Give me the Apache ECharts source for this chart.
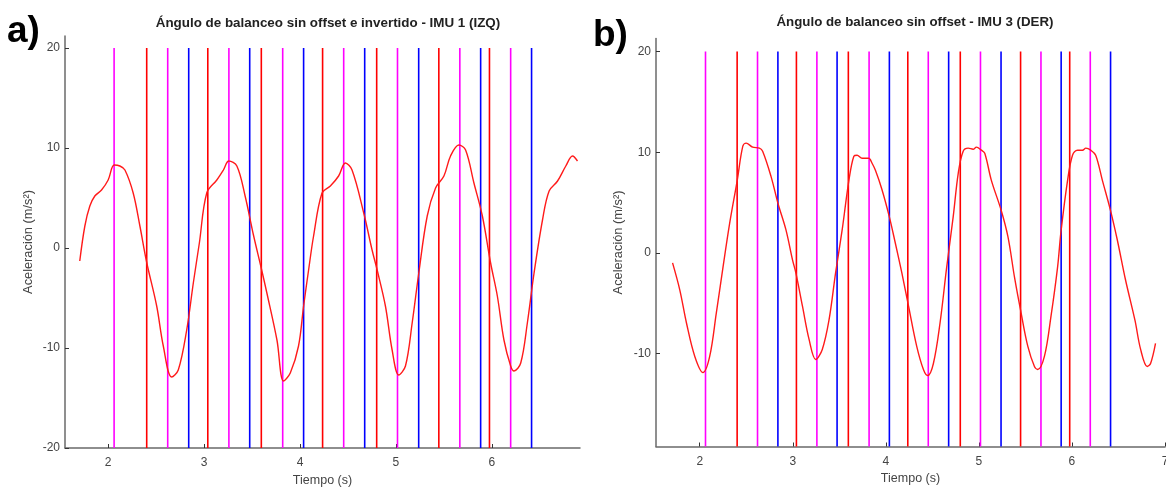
<!DOCTYPE html>
<html><head><meta charset="utf-8">
<script src="https://cdn.jsdelivr.net/npm/echarts@6/dist/echarts.min.js"></script>
<style>html,body{margin:0;padding:0;background:#fff}#c{width:1166px;height:487px}</style>
</head><body><div id="c"></div>
<script>
// ---------- data ----------
const titleA = 'Ángulo de balanceo sin offset e invertido - IMU 1 (IZQ)';
const titleB = 'Ángulo de balanceo sin offset - IMU 3 (DER)';
const panelLabels = ['a)', 'b)'];
const xName = 'Tiempo (s)';
const yName = 'Aceleración (m/s²)';
const xTicksA = [2, 3, 4, 5, 6];
const xTicksB = [2, 3, 4, 5, 6, 7];
const yTicksA = [-20, -10, 0, 10, 20];
const yTicksB = [-10, 0, 10, 20];

// event markers (s)
const eventsMagenta = [2.062, 2.621, 3.259, 3.820, 4.456, 5.017, 5.667, 6.197];
const eventsRed     = [2.402, 3.039, 3.597, 4.236, 4.800, 5.448, 5.976];
const eventsBlue    = [2.840, 3.476, 4.038, 4.675, 5.238, 5.884, 6.415];

// IMU 1 (IZQ)
const timeA = [1.704,1.757,1.809,1.861,1.931,2.000,2.063,2.122,2.175,2.261,2.331,2.401,2.506,2.575,2.662,2.731,2.819,2.888,2.951,3.028,3.133,3.202,3.258,3.342,3.428,3.515,3.596,3.655,3.760,3.829,3.899,3.985,4.038,4.090,4.142,4.230,4.317,4.403,4.473,4.543,4.665,4.752,4.805,4.891,4.961,5.030,5.100,5.170,5.239,5.327,5.414,5.501,5.570,5.657,5.727,5.814,5.902,5.988,6.058,6.127,6.197,6.232,6.302,6.371,6.441,6.529,6.598,6.686,6.772,6.842,6.894];
const valueA = [-1.3,2.2,4.2,5.2,5.8,6.8,8.3,8.2,7.8,5.5,2.2,-1.4,-5.8,-9.8,-12.9,-12.2,-8.2,-3.5,0.5,5.5,6.8,7.8,8.7,8.2,5.2,1.3,-2.0,-4.5,-9.2,-13.3,-12.5,-9.8,-5.8,-2.2,1.2,5.5,6.2,7.2,8.5,7.8,3.5,-0.2,-2.2,-5.8,-10.2,-12.7,-11.8,-7.5,-2.5,3.2,6.0,7.2,9.2,10.3,9.8,6.5,3.2,-1.5,-4.8,-9.2,-11.8,-12.3,-11.5,-7.5,-2.5,2.8,5.7,6.7,8.2,9.2,8.7];

// IMU 3 (DER)
const timeB = [1.708,1.786,1.858,1.947,2.035,2.107,2.178,2.249,2.321,2.403,2.463,2.499,2.569,2.641,2.676,2.766,2.841,2.926,2.997,3.033,3.104,3.175,3.247,3.317,3.389,3.460,3.531,3.603,3.656,3.691,3.745,3.816,3.852,3.888,3.958,4.037,4.101,4.172,4.244,4.332,4.404,4.450,4.511,4.582,4.653,4.724,4.778,4.831,4.885,4.938,4.973,5.027,5.063,5.134,5.237,5.312,5.384,5.454,5.526,5.597,5.632,5.704,5.775,5.846,5.881,5.953,6.006,6.060,6.113,6.149,6.202,6.255,6.327,6.412,6.487,6.576,6.677,6.738,6.809,6.845,6.898];
const valueB = [-1.0,-3.7,-7.0,-10.3,-11.9,-10.3,-6.0,-1.5,2.9,7.2,10.6,10.9,10.5,10.4,10.1,7.6,4.9,2.3,-0.7,-2.0,-5.3,-8.6,-10.6,-9.6,-6.7,-2.0,2.3,7.2,9.6,9.7,9.4,9.4,8.9,8.2,6.3,3.6,1.0,-2.0,-5.3,-9.3,-11.6,-12.2,-11.0,-7.0,-1.5,3.6,7.9,10.1,10.4,10.3,10.5,10.2,9.9,7.2,4.3,1.6,-2.5,-6.0,-9.3,-11.3,-11.6,-10.3,-6.3,-1.4,2.0,7.2,9.7,10.2,10.2,10.4,10.2,9.7,7.2,4.3,1.3,-2.7,-6.7,-9.6,-11.3,-11.0,-9.0];

// ---------- chart ----------
const FONT = '"Liberation Sans", Arial, sans-serif';
const AXIS_COLOR = '#6a6a6a';
const LABEL_COLOR = '#444';
const yRange = [{min: -20, max: 21.2}, {min: -19.25, max: 21.3}];
const xRange = [{min: 1.55, max: 6.92}, {min: 1.53, max: 7.0}];
const lineTop = 20;

function xAxisDef(idx, ticks) {
  return {
    type: 'value', gridIndex: idx, min: xRange[idx].min, max: xRange[idx].max,
    name: xName, nameLocation: 'middle', nameGap: 24,
    nameTextStyle: {color: LABEL_COLOR, fontSize: 12.5, fontFamily: FONT},
    axisLine: {show: true, onZero: false, lineStyle: {color: AXIS_COLOR, width: 1.5}},
    axisTick: {show: true, inside: true, length: 4, customValues: ticks, lineStyle: {color: '#333', width: 1}},
    axisLabel: {customValues: ticks, color: LABEL_COLOR, fontSize: 12, fontFamily: FONT, margin: 9},
    splitLine: {show: false}
  };
}
function yAxisDef(idx, ticks, gap) {
  return {
    type: 'value', gridIndex: idx, min: yRange[idx].min, max: yRange[idx].max,
    name: yName, nameLocation: 'middle', nameGap: gap,
    nameTextStyle: {color: LABEL_COLOR, fontSize: 12.8, fontFamily: FONT},
    axisLine: {show: true, onZero: false, lineStyle: {color: AXIS_COLOR, width: 1.5}},
    axisTick: {show: true, inside: true, length: 4, customValues: ticks, lineStyle: {color: '#333', width: 1}},
    axisLabel: {customValues: ticks, color: LABEL_COLOR, fontSize: 12, fontFamily: FONT, margin: 5},
    splitLine: {show: false}
  };
}
function eventSeries(idx, events, color) {
  return {
    type: 'custom', xAxisIndex: idx, yAxisIndex: idx, silent: true, z: 1,
    data: events.map(t => [t, lineTop]),
    encode: {x: 0, y: 1},
    renderItem: function (params, api) {
      const t = api.value(0);
      const p1 = api.coord([t, lineTop]);
      const p2 = api.coord([t, yRange[idx].min]);
      return {type: 'line', shape: {x1: p1[0], y1: p1[1], x2: p2[0], y2: p2[1]},
        style: {stroke: color, lineWidth: 1.6}};
    }
  };
}
function curveSeries(idx, ts, vs) {
  return {
    type: 'line', xAxisIndex: idx, yAxisIndex: idx, z: 3, silent: true,
    data: ts.map((t, i) => [t, vs[i]]), showSymbol: false, symbol: 'none',
    smooth: 0.35, lineStyle: {color: '#ff1a1a', width: 1.4}
  };
}

const chart = echarts.init(document.getElementById('c'), null, {renderer: 'canvas'});
chart.setOption({
  backgroundColor: '#fff',
  animation: false,
  title: [
    {text: titleA, left: 323, top: 12, textAlign: 'center',
     textStyle: {fontSize: 13.4, fontWeight: 'bold', color: '#222', fontFamily: FONT}},
    {text: titleB, left: 910, top: 11, textAlign: 'center',
     textStyle: {fontSize: 13.3, fontWeight: 'bold', color: '#222', fontFamily: FONT}}
  ],
  graphic: [
    {type: 'text', left: 7, top: 13, style: {text: panelLabels[0], fontSize: 37, fontWeight: 'bold', fill: '#000', fontFamily: FONT}},
    {type: 'text', left: 593, top: 17, style: {text: panelLabels[1], fontSize: 37, fontWeight: 'bold', fill: '#000', fontFamily: FONT}}
  ],
  grid: [
    {left: 65, top: 36, width: 515, height: 412, containLabel: false, outerBoundsMode: 'none'},
    {left: 656, top: 38.5, width: 509, height: 408, containLabel: false, outerBoundsMode: 'none'}
  ],
  xAxis: [xAxisDef(0, xTicksA), xAxisDef(1, xTicksB)],
  yAxis: [yAxisDef(0, yTicksA, 30), yAxisDef(1, yTicksB, 31)],
  series: [
    eventSeries(0, eventsMagenta, '#ff00ff'),
    eventSeries(0, eventsRed, '#ff0000'),
    eventSeries(0, eventsBlue, '#0000ff'),
    curveSeries(0, timeA, valueA),
    eventSeries(1, eventsMagenta, '#ff00ff'),
    eventSeries(1, eventsRed, '#ff0000'),
    eventSeries(1, eventsBlue, '#0000ff'),
    curveSeries(1, timeB, valueB)
  ]
});
</script>
</body></html>
